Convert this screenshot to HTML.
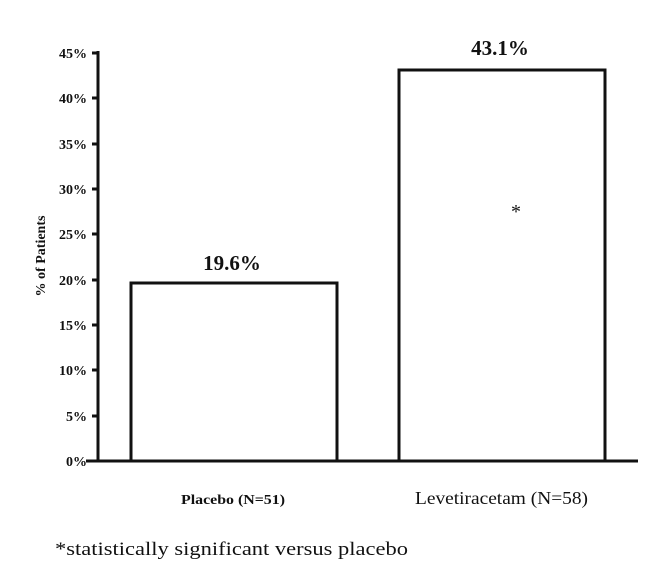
<!DOCTYPE html>
<html><head><style>body{margin:0;background:#fff}</style></head><body>
<svg width="661" height="581" xmlns="http://www.w3.org/2000/svg" font-family="Liberation Serif, serif">
<g stroke="#111" stroke-width="3" fill="none">
<line x1="98" y1="51" x2="98" y2="462"/>
<line x1="86" y1="461" x2="638" y2="461"/>
<g stroke-width="3">
<line x1="92" y1="53" x2="98" y2="53"/><line x1="92" y1="98" x2="98" y2="98"/>
<line x1="92" y1="144" x2="98" y2="144"/><line x1="92" y1="189" x2="98" y2="189"/>
<line x1="92" y1="234" x2="98" y2="234"/><line x1="92" y1="280" x2="98" y2="280"/>
<line x1="92" y1="325" x2="98" y2="325"/><line x1="92" y1="370" x2="98" y2="370"/>
<line x1="92" y1="416" x2="98" y2="416"/>
</g>
<rect x="131" y="283" width="206" height="178"/>
<rect x="399" y="70" width="206" height="391"/>
</g>
<g font-size="14" font-weight="bold" text-anchor="end" fill="#111">
<text x="87" y="58">45%</text><text x="87" y="103">40%</text><text x="87" y="149">35%</text>
<text x="87" y="194">30%</text><text x="87" y="239">25%</text><text x="87" y="285">20%</text>
<text x="87" y="330">15%</text><text x="87" y="375">10%</text><text x="87" y="421">5%</text>
<text x="87" y="466">0%</text>
</g>
<text transform="translate(45,256) rotate(-90)" font-size="14" font-weight="bold" text-anchor="middle" fill="#111">% of Patients</text>
<text x="232" y="270" font-size="21" font-weight="bold" text-anchor="middle" fill="#111">19.6%</text>
<text x="500" y="55" font-size="21" font-weight="bold" text-anchor="middle" fill="#111">43.1%</text>
<text x="516" y="218" font-size="20" text-anchor="middle" fill="#111">*</text>
<text x="181" y="504" font-size="14" font-weight="bold" textLength="104" lengthAdjust="spacingAndGlyphs" fill="#111">Placebo (N=51)</text>
<text x="415" y="504" font-size="18" textLength="173" lengthAdjust="spacingAndGlyphs" fill="#111">Levetiracetam (N=58)</text>
<text x="55" y="555" font-size="19" textLength="353" lengthAdjust="spacingAndGlyphs" fill="#111">*statistically significant versus placebo</text>
</svg>
</body></html>
